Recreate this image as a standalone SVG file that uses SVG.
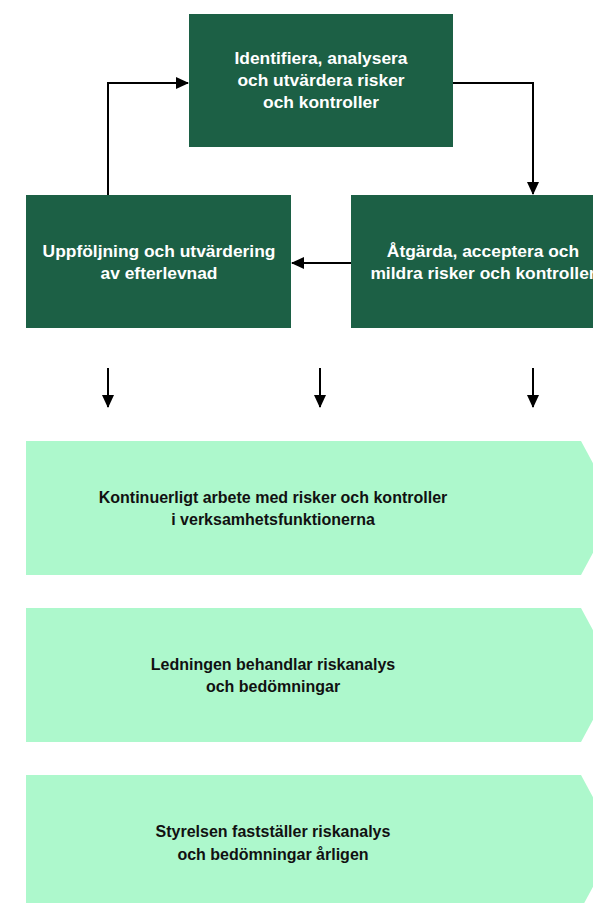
<svg xmlns="http://www.w3.org/2000/svg" width="593" height="903" viewBox="0 0 593 903">
<style>
.box{fill:#1c6045}
.mint{fill:#adf8cc}
.wt{fill:#ffffff;font-family:"Liberation Sans",Arial,sans-serif;font-weight:bold;font-size:17.4px;text-anchor:middle}
.bt{fill:#111111;font-family:"Liberation Sans",Arial,sans-serif;font-weight:bold;font-size:16px;text-anchor:middle}
.con{fill:none;stroke:#000;stroke-width:2}
</style>
<defs>
<marker id="ah" markerWidth="13" markerHeight="12" refX="12" refY="6" orient="auto" markerUnits="userSpaceOnUse">
<path d="M0,0 L13,6 L0,12 Z" fill="#000"/>
</marker>
</defs>
<rect width="593" height="903" fill="#fff"/>
<g id="n-identify">
<rect class="box" x="189" y="14" width="264" height="133"/>
<text class="wt" x="321" y="64">Identifiera, analysera</text>
<text class="wt" x="321" y="86">och utvärdera risker</text>
<text class="wt" x="321" y="108">och kontroller</text>
</g>
<g id="n-follow">
<rect class="box" x="26" y="195" width="265" height="133"/>
<text class="wt" x="159" y="257">Uppföljning och utvärdering</text>
<text class="wt" x="159" y="279">av efterlevnad</text>
</g>
<g id="n-act">
<rect class="box" x="351" y="195" width="264" height="133"/>
<text class="wt" x="483" y="257">Åtgärda, acceptera och</text>
<text class="wt" x="483" y="279">mildra risker och kontroller</text>
</g>
<g id="n-continuous">
<polygon class="mint" points="26,441 581,441 617,508 581,575 26,575"/>
<text class="bt" x="273" y="503">Kontinuerligt arbete med risker och kontroller</text>
<text class="bt" x="273" y="525">i verksamhetsfunktionerna</text>
</g>
<g id="n-management">
<polygon class="mint" points="26,608 581,608 617,675 581,742 26,742"/>
<text class="bt" x="273" y="670">Ledningen behandlar riskanalys</text>
<text class="bt" x="273" y="692">och bedömningar</text>
</g>
<g id="n-board">
<polygon class="mint" points="26,775 581,775 617,842 581,909 26,909"/>
<text class="bt" x="273" y="837">Styrelsen fastställer riskanalys</text>
<text class="bt" x="273" y="860">och bedömningar årligen</text>
</g>
<g id="connectors">
<path class="con" d="M108,195 V83 H188" marker-end="url(#ah)"/>
<path class="con" d="M453,83 H533 V194" marker-end="url(#ah)"/>
<path class="con" d="M351,263 H292" marker-end="url(#ah)"/>
<path class="con" d="M108,368 V407" marker-end="url(#ah)"/>
<path class="con" d="M320,368 V407" marker-end="url(#ah)"/>
<path class="con" d="M533,368 V407" marker-end="url(#ah)"/>
</g>
</svg>
